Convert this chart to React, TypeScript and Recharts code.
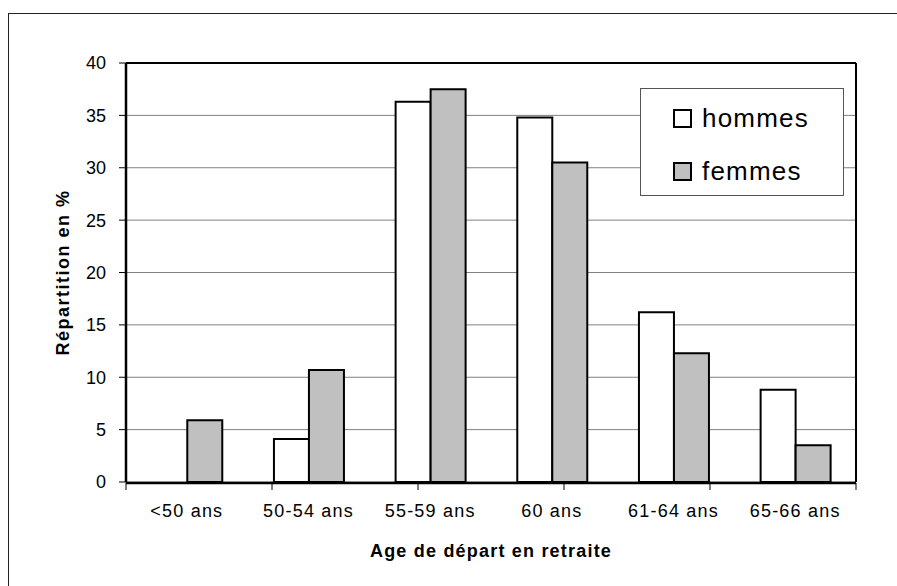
import React from 'react';
import {
  BarChart,
  Bar,
  XAxis,
  YAxis,
  CartesianGrid,
  Legend,
  Label,
} from 'recharts';

const categories = ['<50 ans', '50-54 ans', '55-59 ans', '60 ans', '61-64 ans', '65-66 ans'];
const seriesNames = ['hommes', 'femmes'];
const hommes = [0, 4.1, 36.3, 34.8, 16.2, 8.8];
const femmes = [5.9, 10.7, 37.5, 30.5, 12.3, 3.5];
const yTicks = [0, 5, 10, 15, 20, 25, 30, 35, 40];
const boundaryTicks = [0, 1, 2, 3, 4, 5, 6];

const FONT = '"Liberation Sans", Arial, sans-serif';

const chartData = categories.map((age, i) => ({
  age,
  hommes: hommes[i],
  femmes: femmes[i],
}));

function LegendBox(props: any) {
  const { payload = [] } = props;
  return (
    <div
      style={{
        width: 204,
        height: 108,
        boxSizing: 'border-box',
        border: '1px solid #555',
        background: '#fff',
        fontFamily: FONT,
        fontSize: 26,
        color: '#000',
        paddingTop: 16,
        paddingLeft: 32,
      }}
    >
      {payload.map((entry: any) => (
        <div
          key={entry.value}
          style={{ display: 'flex', alignItems: 'center', height: 26, marginBottom: 27 }}
        >
          <span
            style={{
              display: 'inline-block',
              width: 19,
              height: 19,
              boxSizing: 'border-box',
              border: '2px solid #000',
              background: entry.color,
              marginRight: 10,
            }}
          />
          <span style={{ letterSpacing: 1.2 }}>{entry.value}</span>
        </div>
      ))}
    </div>
  );
}

export default function App() {
  return (
    <div
      style={{
        position: 'absolute',
        left: 0,
        top: 0,
        width: 897,
        height: 586,
        overflow: 'hidden',
        background: '#fff',
      }}
    >
      <div
        style={{
          position: 'absolute',
          left: 8,
          top: 13,
          width: 1000,
          height: 1000,
          borderLeft: '1px solid #222',
          borderTop: '1px solid #222',
        }}
      />
      <div style={{ position: 'absolute', left: 0, top: 0 }}>
        <BarChart
          width={897}
          height={586}
          data={chartData}
          margin={{ top: 62, right: 40, left: 66, bottom: 102 }}
          barCategoryGap="21.6%"
          barGap={0}
        >
          <CartesianGrid vertical={false} stroke="#808080" strokeWidth={1} />
          <XAxis
            dataKey="age"
            height={1}
            tickLine={false}
            axisLine={false}
            tickSize={0}
            tickMargin={22}
            interval={0}
            fontFamily={FONT}
            tick={{ fill: '#000', fontSize: 18, letterSpacing: 1.2 }}
          >
            <Label
              value="Age de départ en retraite"
              position="bottom"
              offset={61}
              fontSize={18}
              fontWeight="bold"
              fill="#000"
              fontFamily={FONT}
              letterSpacing={1.2}
            />
          </XAxis>
          <XAxis
            xAxisId="bounds"
            type="number"
            domain={[0, 6]}
            ticks={boundaryTicks}
            allowDataOverflow
            height={1}
            tickFormatter={() => ''}
            tickSize={7}
            tickLine={{ stroke: '#000', strokeWidth: 1 }}
            axisLine={{ stroke: '#000', strokeWidth: 2.5 }}
          />
          <XAxis
            xAxisId="top"
            orientation="top"
            type="number"
            domain={[0, 6]}
            allowDataOverflow
            height={1}
            tick={false}
            tickLine={false}
            axisLine={{ stroke: '#000', strokeWidth: 2 }}
          />
          <YAxis
            width={60}
            domain={[0, 40]}
            ticks={yTicks}
            interval={0}
            tickSize={7}
            tickMargin={13}
            fontFamily={FONT}
            tickLine={{ stroke: '#000', strokeWidth: 1 }}
            axisLine={{ stroke: '#000', strokeWidth: 2.5 }}
            tick={{ fill: '#000', fontSize: 18 }}
          >
            <Label
              value="Répartition en %"
              angle={-90}
              position="left"
              offset={3}
              fontSize={18}
              fontWeight="bold"
              fill="#000"
              fontFamily={FONT}
              letterSpacing={1.5}
              style={{ textAnchor: 'middle' }}
            />
          </YAxis>
          <YAxis
            yAxisId="right"
            orientation="right"
            width={1}
            domain={[0, 40]}
            tick={false}
            tickLine={false}
            axisLine={{ stroke: '#000', strokeWidth: 2 }}
          />
          <Legend
            layout="vertical"
            align="center"
            verticalAlign="middle"
            itemSorter={(item: any) => seriesNames.indexOf(item.value)}
            content={<LegendBox />}
            wrapperStyle={{ position: 'absolute', left: 640, top: 88, width: 204, height: 108 }}
          />
          <Bar
            dataKey="hommes"
            name={seriesNames[0]}
            fill="#ffffff"
            stroke="#000"
            strokeWidth={2}
            isAnimationActive={false}
          />
          <Bar
            dataKey="femmes"
            name={seriesNames[1]}
            fill="#c0c0c0"
            stroke="#000"
            strokeWidth={2}
            isAnimationActive={false}
          />
        </BarChart>
      </div>
    </div>
  );
}
